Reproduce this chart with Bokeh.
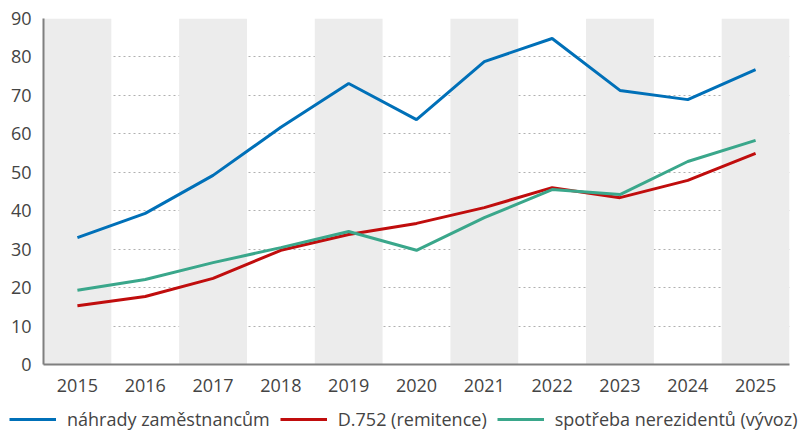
from bokeh.plotting import figure
from bokeh.models import Range1d, FactorRange, Legend, LegendItem, FixedTicker
from bokeh.layouts import column, row
from bokeh.embed import file_html
from bokeh.resources import INLINE

years = ["2015", "2016", "2017", "2018", "2019", "2020", "2021", "2022", "2023", "2024", "2025"]
nahrady = [33.0, 39.3, 49.2, 61.7, 73.1, 63.7, 78.8, 84.8, 71.3, 68.9, 76.7]
d752 = [15.3, 17.7, 22.4, 29.7, 33.8, 36.7, 40.8, 46.0, 43.4, 47.9, 54.9]
spotreba = [19.3, 22.1, 26.5, 30.4, 34.6, 29.7, 38.2, 45.5, 44.2, 52.8, 58.3]
band_years = years[::2]
y_ticks = list(range(0, 91, 10))
labels = ["náhrady zaměstnancům", "D.752 (remitence)", "spotřeba nerezidentů (vývoz)"]
colors = ["#0070b8", "#c00d0d", "#3aa78b"]

FONT = "Open Sans"

p = figure(width=800, height=400, x_range=FactorRange(*years), y_range=Range1d(0, 90),
           output_backend="svg", toolbar_location=None,
           min_border_left=43, min_border_right=11, min_border_top=18, min_border_bottom=36)
p.outline_line_color = None
p.background_fill_color = "white"

p.vbar(x=band_years, top=[90] * len(band_years), bottom=0, width=1.0,
       fill_color="#ececec", line_color=None)

p.line(years, nahrady, line_color=colors[0], line_width=3)
p.line(years, d752, line_color=colors[1], line_width=3)
p.line(years, spotreba, line_color=colors[2], line_width=3)

p.xgrid.grid_line_color = None
p.ygrid.grid_line_color = "#b0b0b0"
p.ygrid.grid_line_dash = "2 3"
p.ygrid.grid_line_width = 1
p.ygrid.ticker = FixedTicker(ticks=y_ticks)
p.yaxis.ticker = FixedTicker(ticks=y_ticks)

for ax in (p.xaxis[0], p.yaxis[0]):
    ax.axis_line_color = "#7f7f7f"
    ax.axis_line_width = 2
    ax.major_tick_line_color = None
    ax.minor_tick_line_color = None
    ax.major_label_text_font = FONT
    ax.major_label_text_font_size = "18px"
    ax.major_label_text_color = "#444444"
p.yaxis.major_label_standoff = 6
p.xaxis.major_label_standoff = 8

# legend in a separate strip below the chart
lg = figure(width=800, height=39, x_range=Range1d(0, 1), y_range=Range1d(0, 1),
            output_backend="svg", toolbar_location=None,
            x_axis_type=None, y_axis_type=None, min_border=0)
lg.outline_line_color = None
lg.xgrid.grid_line_color = None
lg.ygrid.grid_line_color = None
items = []
for lab, col in zip(labels, colors):
    r = lg.line(x=[5, 6], y=[5, 6], line_color=col, line_width=3)
    items.append(LegendItem(label=lab, renderers=[r]))
legend = Legend(items=items, orientation="horizontal", location=(9, 8),
                label_text_font=FONT, label_text_font_size="18px",
                label_text_color="#444444", glyph_width=47, glyph_height=20,
                label_standoff=11, spacing=10, padding=0, margin=0,
                border_line_color=None, background_fill_alpha=0)
lg.add_layout(legend, "center")

layout = column(p, row(lg), spacing=0)
open("out.html", "w").write(file_html(layout, INLINE))
